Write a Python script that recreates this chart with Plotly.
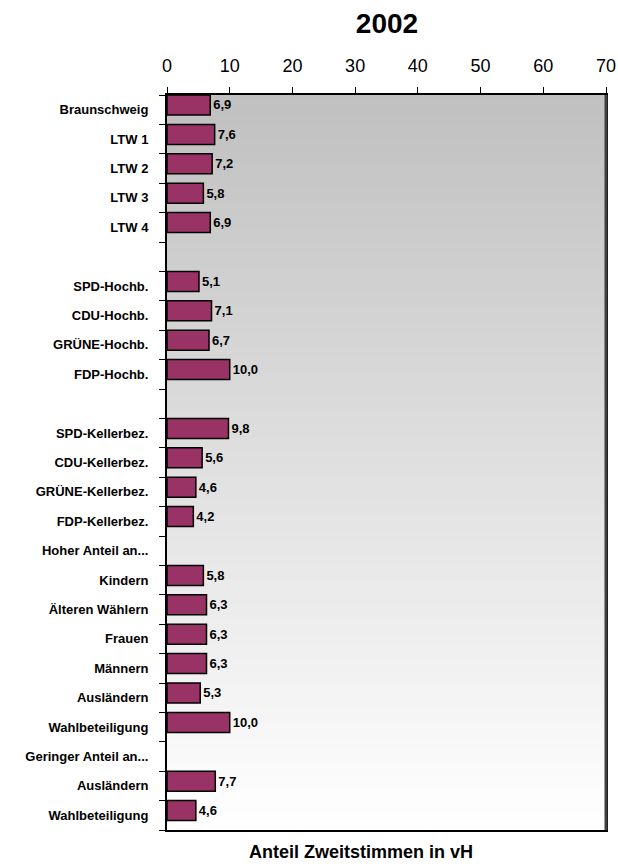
import plotly.graph_objects as go

categories = ["Braunschweig", "LTW 1", "LTW 2", "LTW 3", "LTW 4", "",
              "SPD-Hochb.", "CDU-Hochb.", "GRÜNE-Hochb.", "FDP-Hochb.", "",
              "SPD-Kellerbez.", "CDU-Kellerbez.", "GRÜNE-Kellerbez.", "FDP-Kellerbez.",
              "Hoher Anteil an...", "Kindern", "Älteren Wählern", "Frauen", "Männern",
              "Ausländern", "Wahlbeteiligung", "Geringer Anteil an...", "Ausländern",
              "Wahlbeteiligung"]
values = [6.9, 7.6, 7.2, 5.8, 6.9, None,
          5.1, 7.1, 6.7, 10.0, None,
          9.8, 5.6, 4.6, 4.2,
          None, 5.8, 6.3, 6.3, 6.3,
          5.3, 10.0, None, 7.7,
          4.6]
x_ticks = [0, 10, 20, 30, 40, 50, 60, 70]

positions = list(range(len(categories)))

W, H = 618, 868
L, R, T, B = 167, 12, 95, 38
FONT = "Arial, Liberation Sans, sans-serif"

fig = go.Figure()
fig.add_trace(go.Bar(
    x=values, y=positions, orientation="h",
    marker=dict(color="#993366", line=dict(color="black", width=1.5)),
    width=0.68, offset=-0.5,
    texttemplate="%{x:.1f}", textposition="outside",
    textfont=dict(family=FONT, size=13, color="black", weight="bold"),
    cliponaxis=False, hoverinfo="skip",
))

# vertical gradient background (gray at top to white at bottom)
n = 120
shapes = []
for i in range(n):
    t = i / (n - 1)
    c = int(round(192 + (255 - 192) * t))
    shapes.append(dict(type="rect", xref="paper", yref="paper",
                       x0=0, x1=1, y0=max(0, 1 - (i + 1.6) / n), y1=1 - i / n,
                       fillcolor=f"rgb({c},{c},{c})", line=dict(width=0),
                       layer="below"))
# darker right border
shapes.append(dict(type="line", xref="paper", yref="paper", x0=1, x1=1, y0=0, y1=1,
                   line=dict(color="#404040", width=3)))

fig.update_layout(
    width=W, height=H,
    margin=dict(l=L, r=R, t=T, b=B, autoexpand=False),
    paper_bgcolor="white", plot_bgcolor="white",
    separators=",.",
    showlegend=False,
    shapes=shapes,
    font=dict(family=FONT, color="black"),
    title=dict(text="<b>2002</b>", x=387 / W, xanchor="center",
               y=1 - 23 / H, yanchor="middle", yref="container",
               font=dict(size=28, family=FONT, color="black")),
    xaxis=dict(side="top", range=[0, 70], tickvals=x_ticks, automargin=False,
               ticks="outside", ticklen=6, tickwidth=1, tickcolor="black",
               ticklabelstandoff=8,
               tickfont=dict(size=18, family=FONT),
               showgrid=False, zeroline=False,
               showline=True, linecolor="black", linewidth=2, mirror=True),
    yaxis=dict(range=[len(categories) - 0.5, -0.5], tickvals=positions, automargin=False,
               ticktext=categories, ticks="", ticklabelstandoff=14,
               tickfont=dict(size=13, family=FONT, weight="bold"),
               minor=dict(tickmode="linear", tick0=0.5, dtick=1, ticks="outside",
                          ticklen=6, tickwidth=1, tickcolor="black", showgrid=False),
               showgrid=False, zeroline=False,
               showline=True, linecolor="black", linewidth=2, mirror=True),
    annotations=[dict(text="<b>Anteil Zweitstimmen in vH</b>", xref="paper", yref="paper",
                      x=(361 - L) / (W - L - R), y=0, yshift=-22,
                      xanchor="center", yanchor="middle", showarrow=False,
                      font=dict(size=18, family=FONT, color="black"))],
)

fig.write_html("out.html", config={"displayModeBar": False},
               post_script="document.body.style.margin='0';document.body.style.overflow='hidden';")
